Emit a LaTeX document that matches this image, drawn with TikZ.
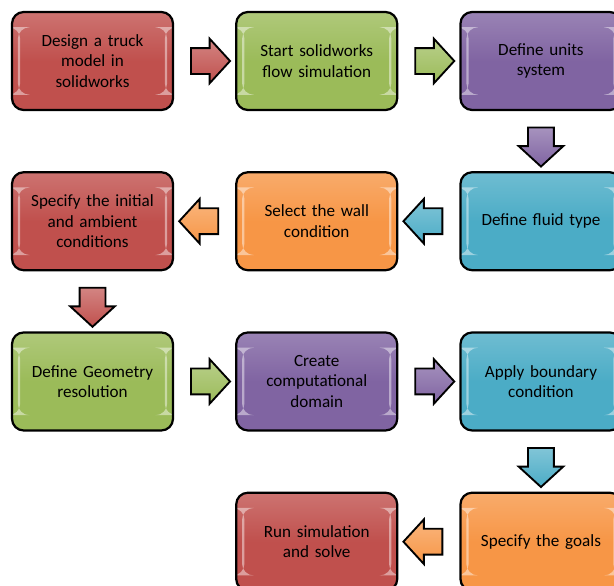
\documentclass[tikz,border=0pt]{standalone}
\usepackage{fontspec}
\setmainfont{Carlito}
\usetikzlibrary{shapes.arrows,positioning,calc}

\definecolor{cred}{HTML}{C0504D}
\definecolor{cgreen}{HTML}{9BBB59}
\definecolor{cpurple}{HTML}{8064A2}
\definecolor{caqua}{HTML}{4BACC6}
\definecolor{corange}{HTML}{F79646}

\begin{document}
\begin{tikzpicture}[x=0.03cm, y=-0.03cm, node distance=1.8cm and 1.83cm,
    stepbox/.style={draw=black, line width=1.9pt, rounded corners=0.35cm,
        minimum width=4.83cm, minimum height=2.94cm, text width=4.5cm,
        align=center, font=\fontsize{14.6}{17.4}\selectfont,
        top color=#1!80!white, bottom color=#1, middle color=#1,
        path picture={
            \fill[white, opacity=0.45]
                ([xshift=5pt,yshift=-13pt]path picture bounding box.north west)
                rectangle ([xshift=7pt,yshift=13pt]path picture bounding box.south west);
            \fill[white, opacity=0.45]
                ([xshift=-5pt,yshift=-13pt]path picture bounding box.north east)
                rectangle ([xshift=-7pt,yshift=13pt]path picture bounding box.south east);
        }},
    flowarrow/.style={single arrow, draw=black, line width=1.6pt,
        minimum height=1.17cm, inner xsep=0pt, inner ysep=0.36cm,
        single arrow head extend=0.28cm, single arrow tip angle=95,
        top color=#1!70!white, bottom color=#1}]

    \useasboundingbox (0,0) rectangle (614,585);

    % Boxes
    \node[stepbox=cred] (design) at (92.5,61) {Design a truck\\ model in\\ solidworks};
    \node[stepbox=cgreen, right=of design] (start) {Start solidworks\\ flow simulation};
    \node[stepbox=cpurple, right=of start] (units) {Define units\\ system};
    \node[stepbox=caqua, below=of units] (fluid) {Define fluid type};
    \node[stepbox=corange, left=of fluid] (wall) {Select the wall\\ condition};
    \node[stepbox=cred, left=of wall] (initial) {Specify the initial\\ and ambient\\ conditions};
    \node[stepbox=cgreen, below=of initial] (geometry) {Define Geometry\\ resolution};
    \node[stepbox=cpurple, right=of geometry] (domain) {Create\\ computational\\ domain};
    \node[stepbox=caqua, right=of domain] (boundary) {Apply boundary\\ condition};
    \node[stepbox=corange, below=of boundary] (goals) {Specify the goals};
    \node[stepbox=cred, left=of goals] (run) {Run simulation\\ and solve};

    % Arrows
    \node[flowarrow=cred] (a1) at ($(design)!0.5!(start)$) {};
    \node[flowarrow=cgreen] (a2) at ($(start)!0.5!(units)$) {};
    \node[flowarrow=cpurple, rotate=-90] (a3) at ($(units)!0.5!(fluid)$) {};
    \node[flowarrow=caqua, rotate=180] (a4) at ($(fluid)!0.5!(wall)$) {};
    \node[flowarrow=corange, rotate=180] (a5) at ($(wall)!0.5!(initial)$) {};
    \node[flowarrow=cred, rotate=-90] (a6) at ($(initial)!0.5!(geometry)$) {};
    \node[flowarrow=cgreen] (a7) at ($(geometry)!0.5!(domain)$) {};
    \node[flowarrow=cpurple] (a8) at ($(domain)!0.5!(boundary)$) {};
    \node[flowarrow=caqua, rotate=-90] (a9) at ($(boundary)!0.5!(goals)$) {};
    \node[flowarrow=corange, rotate=180] (a10) at ($(goals)!0.5!(run)$) {};
\end{tikzpicture}
\end{document}
